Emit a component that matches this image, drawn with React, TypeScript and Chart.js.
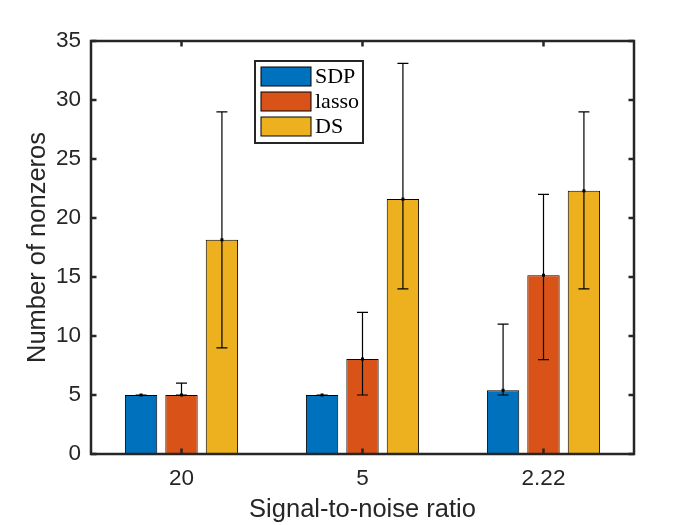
import { useEffect, useRef } from "react"
import { Chart, registerables } from "chart.js"

Chart.register(...registerables)

// signal-to-noise ratio groups
const snrLabels = ["20", "5", "2.22"]
const methodNames = ["SDP", "lasso", "DS"]
const methodColors = ["#0072BD", "#D95319", "#EDB120"]

// mean number of nonzeros
const sdpMean = [5, 5, 5.4]
const lassoMean = [5, 8.05, 15.15]
const dsMean = [18.15, 21.6, 22.3]

// error bar ends
const sdpLow = [5, 5, 5]
const sdpHigh = [5, 5, 11]
const lassoLow = [5, 5, 8]
const lassoHigh = [6, 12, 22]
const dsLow = [9, 14, 14]
const dsHigh = [29, 33.1, 29]

const yMax = 35
const yStep = 5

const means = [sdpMean, lassoMean, dsMean]
const lows = [sdpLow, lassoLow, dsLow]
const highs = [sdpHigh, lassoHigh, dsHigh]

const axisColor = "#262626"
const sans = "'Liberation Sans', Arial"

const errorBars = {
  id: "errorBars",
  afterDatasetsDraw(chart: any) {
    const { ctx } = chart
    const y = chart.scales.y
    ctx.save()
    ctx.strokeStyle = "#000"
    ctx.fillStyle = "#000"
    ctx.lineWidth = 1.2
    chart.data.datasets.forEach((_: any, i: number) => {
      const meta = chart.getDatasetMeta(i)
      meta.data.forEach((bar: any, j: number) => {
        const x = bar.x
        const lo = y.getPixelForValue(lows[i][j])
        const hi = y.getPixelForValue(highs[i][j])
        ctx.beginPath()
        ctx.moveTo(x, lo)
        ctx.lineTo(x, hi)
        ctx.moveTo(x - 5.5, lo)
        ctx.lineTo(x + 5.5, lo)
        ctx.moveTo(x - 5.5, hi)
        ctx.lineTo(x + 5.5, hi)
        ctx.stroke()
        ctx.fillRect(x - 1.5, bar.y - 1.5, 3, 3)
      })
    })
    ctx.restore()
  },
}

const frameAndLegend = {
  id: "frameAndLegend",
  afterDraw(chart: any) {
    const { ctx, chartArea: a, scales } = chart
    ctx.save()
    ctx.strokeStyle = axisColor
    ctx.lineWidth = 2.5
    ctx.strokeRect(a.left, a.top, a.right - a.left, a.bottom - a.top)

    // inward tick marks, MATLAB style
    const tl = 5.5
    ctx.beginPath()
    scales.y.ticks.forEach((_: any, i: number) => {
      const py = scales.y.getPixelForTick(i)
      ctx.moveTo(a.left, py)
      ctx.lineTo(a.left + tl, py)
      ctx.moveTo(a.right, py)
      ctx.lineTo(a.right - tl, py)
    })
    scales.x.ticks.forEach((_: any, i: number) => {
      const px = scales.x.getPixelForTick(i)
      ctx.moveTo(px, a.bottom)
      ctx.lineTo(px, a.bottom - tl)
      ctx.moveTo(px, a.top)
      ctx.lineTo(px, a.top + tl)
    })
    ctx.stroke()

    // legend box
    const lx = a.left + 164
    const ly = a.top + 20
    const lw = 108
    const lh = 82
    ctx.fillStyle = "#fff"
    ctx.fillRect(lx, ly, lw, lh)
    ctx.lineWidth = 2
    ctx.strokeRect(lx, ly, lw, lh)

    ctx.font = "22px 'Liberation Serif'"
    ctx.textBaseline = "middle"
    ctx.textAlign = "left"
    chart.data.datasets.forEach((ds: any, i: number) => {
      const ry = ly + 6 + i * 25
      ctx.fillStyle = ds.backgroundColor
      ctx.fillRect(lx + 6, ry, 50, 19)
      ctx.lineWidth = 1
      ctx.strokeStyle = "#000"
      ctx.strokeRect(lx + 6, ry, 50, 19)
      ctx.fillStyle = "#000"
      ctx.fillText(ds.label, lx + 60, ry + 10)
    })
    ctx.restore()
  },
}

export default function App() {
  const chartRef = useRef<HTMLCanvasElement>(null)
  const chartInstance = useRef<Chart | null>(null)

  useEffect(() => {
    document.body.style.margin = "0"
    if (!chartRef.current) return

    if (chartInstance.current) {
      chartInstance.current.destroy()
    }

    const ctx = chartRef.current.getContext("2d")
    if (!ctx) return

    chartInstance.current = new Chart(ctx, {
      type: "bar",
      data: {
        labels: snrLabels,
        datasets: methodNames.map((name, i) => ({
          label: name,
          data: means[i],
          backgroundColor: methodColors[i],
          borderColor: "#000",
          borderWidth: 1,
          categoryPercentage: 0.67,
          barPercentage: 0.8,
        })),
      },
      options: {
        responsive: false,
        animation: false,
        events: [],
        layout: {
          padding: { left: 0, top: 41, right: 66, bottom: 0 },
        },
        plugins: {
          legend: { display: false },
          tooltip: { enabled: false },
        },
        scales: {
          x: {
            grid: { display: false, drawTicks: false },
            border: { display: false },
            ticks: {
              color: axisColor,
              padding: 11,
              font: { family: sans, size: 22.5 },
            },
            title: {
              display: true,
              text: "Signal-to-noise ratio",
              color: axisColor,
              padding: { top: 0, bottom: 0 },
              font: { family: sans, size: 25.5 },
            },
            afterFit: (scale: any) => {
              scale.height = 71
            },
          },
          y: {
            min: 0,
            max: yMax,
            grid: { display: false, drawTicks: false },
            border: { display: false },
            ticks: {
              stepSize: yStep,
              color: axisColor,
              padding: 10,
              font: { family: sans, size: 22.5 },
            },
            title: {
              display: true,
              text: "Number of nonzeros",
              color: axisColor,
              padding: { top: 22.5, bottom: 0 },
              font: { family: sans, size: 25.5 },
            },
            afterFit: (scale: any) => {
              scale.width = 91
            },
          },
        },
      },
      plugins: [errorBars, frameAndLegend],
    })

    return () => {
      if (chartInstance.current) {
        chartInstance.current.destroy()
        chartInstance.current = null
      }
    }
  }, [])

  return <canvas ref={chartRef} width={700} height={525} />
}
